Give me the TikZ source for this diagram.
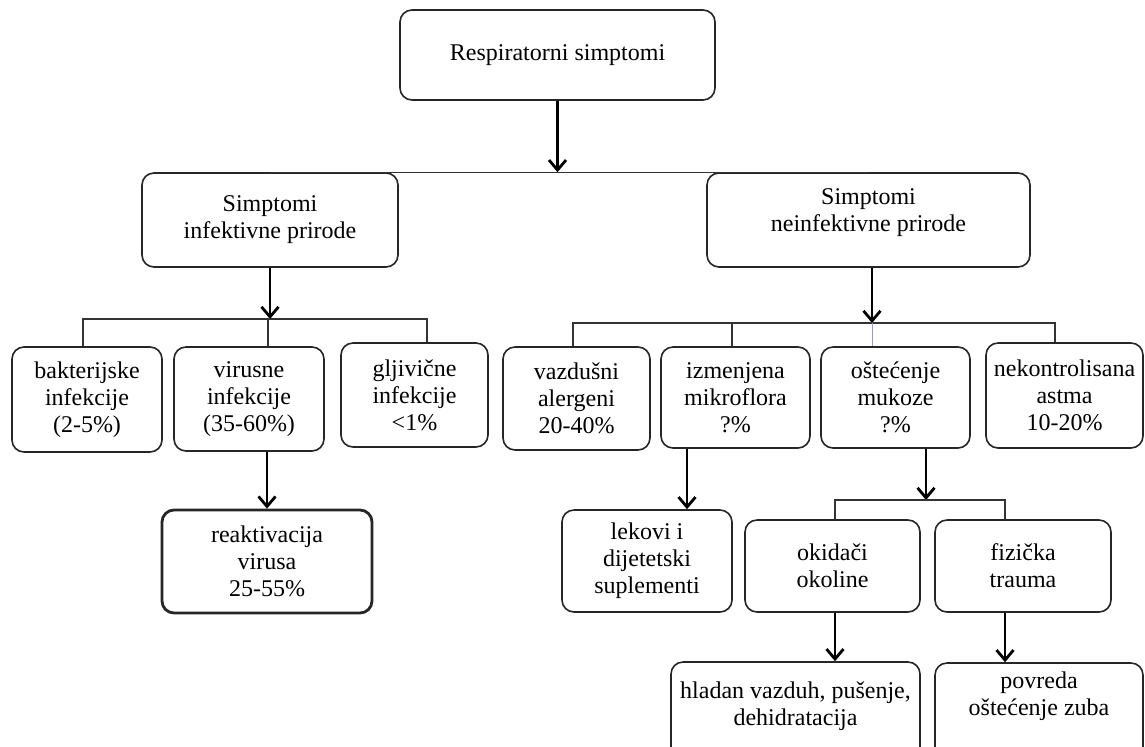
\documentclass[tikz,border=0pt]{standalone}
\usepackage{fontspec}
\setmainfont{Liberation Serif}
\usetikzlibrary{arrows.meta,calc}
\begin{document}
\begin{tikzpicture}[x=0.5pt,y=-0.5pt,
 box/.style={draw=black!85, line width=0.8pt, rounded corners=6pt, align=center, inner sep=0pt, font=\fontsize{12}{13.5}\selectfont},
 lbl/.style={align=center, inner sep=0pt, font=\fontsize{12}{13.5}\selectfont},
 arr/.style={line width=1.4pt, -{Straight Barb[length=5pt,width=8.5pt]}},
 bus/.style={line width=0.7pt, draw=black!80},
 thinbus/.style={line width=0.5pt, draw=blue!35!gray!60}]
\useasboundingbox (0,0) rectangle (1145,746);
\clip (0,0) rectangle (1145,746);
\fill[white] (0,0) rectangle (1145,746);
% level 0
\node[box, minimum width=157.5pt, minimum height=45pt] (top) at (557.5,55) {Respiratorni simptomi};
% level 1
\node[box, minimum width=128pt, minimum height=47pt] (inf) at (270,220) {Simptomi\\infektivne prirode};
\node[box, minimum width=161.5pt, minimum height=47pt, label={[lbl,yshift=3.5pt]center:Simptomi\\neinfektivne prirode}] (ninf) at (868.5,220) {};
% level 2 left
\node[box, minimum width=75pt, minimum height=52.5pt] (bak) at (87,399.5) {bakterijske\\infekcije\\(2-5\%)};
\node[box, minimum width=75pt, minimum height=52pt] (vir) at (249,399) {virusne\\infekcije\\(35-60\%)};
\node[box, minimum width=73.5pt, minimum height=52pt] (glj) at (414.5,395) {gljivične\\infekcije\\<1\%};
\node[box, line width=1.4pt, minimum width=105pt, minimum height=51.5pt] (reak) at (267,561.5) {reaktivacija\\virusa\\25-55\%};
% level 2 right
\node[box, minimum width=73.5pt, minimum height=51.5pt] (vaz) at (576.5,398.5) {vazdušni\\alergeni\\20-40\%};
\node[box, minimum width=74.5pt, minimum height=50.5pt] (izm) at (735.5,397.5) {izmenjena\\mikroflora\\?\%};
\node[box, minimum width=74.5pt, minimum height=50.5pt] (ost) at (895.5,397.5) {oštećenje\\mukoze\\?\%};
\node[box, minimum width=78.5pt, minimum height=52.5pt] (nek) at (1064.5,395.5) {nekontrolisana\\astma\\10-20\%};
% level 3
\node[box, minimum width=85pt, minimum height=51pt] (lek) at (647,561) {lekovi i\\dijetetski\\suplementi};
\node[box, minimum width=87.5pt, minimum height=46pt] (oki) at (832.5,566) {okidači\\okoline};
\node[box, minimum width=88pt, minimum height=46pt] (fiz) at (1023,566) {fizička\\trauma};
% level 4
\node[box, minimum width=124.5pt, minimum height=49pt, label={[lbl,yshift=2.5pt]center:hladan vazduh, pušenje,\\dehidratacija}] (hla) at (795.5,711) {};
\node[box, minimum width=104pt, minimum height=48.5pt, label={[lbl,yshift=7.5pt]center:povreda\\oštećenje zuba}] (pov) at (1039,711.5) {};
% connectors
\draw[arr] (top.south) -- (top.south |- inf.north);
\draw[bus] (inf.north) -- (ninf.north);
% left bus
\coordinate (b1) at (268,319);
\draw[arr] (inf.south) -- (inf.south |- b1);
\draw[bus] ([xshift=-2pt]bak.north) |- (b1) -| ([xshift=6.25pt]glj.north);
\draw[bus] (b1) -- (b1 |- vir.north);
\draw[arr] (reak.north |- vir.south) -- (reak.north);
% right bus
\coordinate (b2) at (872,323);
\draw[arr] (b2 |- ninf.south) -- (b2);
\draw[bus] ([xshift=-1.75pt]vaz.north) |- (b2) -| ([xshift=-4.75pt]nek.north);
\draw[bus] ([xshift=-1.75pt]izm.north) -- ([xshift=-1.75pt]izm.north |- b2);
\draw[thinbus] (b2) -- (b2 |- ost.north);
\draw[arr] ([xshift=-24.25pt]izm.south) -- ([xshift=-24.25pt]izm.south |- lek.north);
% mucosa bus
\coordinate (b3) at (926,500);
\draw[arr] (b3 |- ost.south) -- (b3);
\draw[bus] ([xshift=1.25pt]oki.north) |- (b3) -| ([xshift=-9pt]fiz.north);
\draw[arr] ([xshift=1.25pt]oki.south) -- ([xshift=1.25pt]oki.south |- hla.north);
\draw[arr] ([xshift=-9pt]fiz.south) -- ([xshift=-9pt]fiz.south |- pov.north);
\end{tikzpicture}
\end{document}
